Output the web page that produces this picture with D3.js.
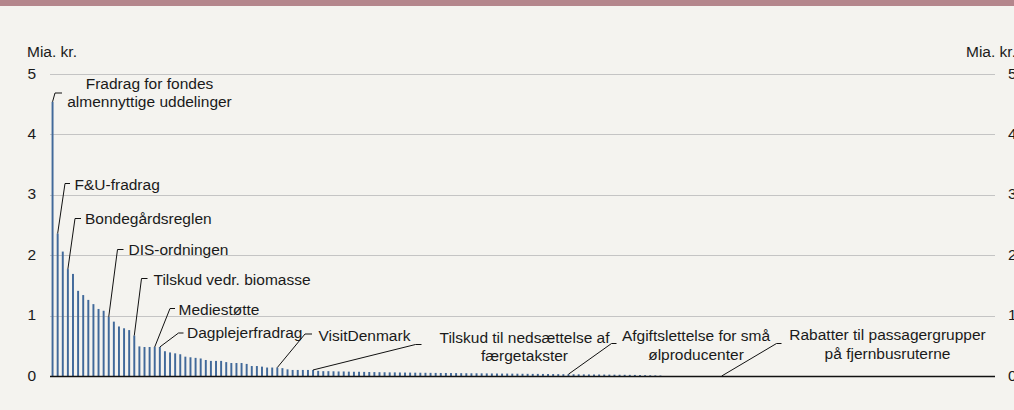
<!DOCTYPE html>
<html><head><meta charset="utf-8">
<script src="https://cdn.jsdelivr.net/npm/d3@7"></script>
<style>
body{margin:0;background:#f4f3ef}
svg{display:block}
text{font-family:"Liberation Sans",Arial,sans-serif;font-size:15.5px;fill:#1a1a1a}
</style>
</head><body><svg id="c" width="1014" height="410"></svg>
<script>
// Values (Mia. kr.) of the ordered tax expenditures / subsidies
const values = [
  4.54, 2.36, 2.06, 1.77, 1.69, 1.41, 1.34, 1.26, 1.19, 1.11,
  1.08, 0.98, 0.90, 0.82, 0.79, 0.76, 0.67, 0.49, 0.48, 0.48,
  0.48, 0.48, 0.41, 0.39, 0.375, 0.36, 0.32, 0.31, 0.30, 0.29,
  0.265, 0.25, 0.25, 0.25, 0.23, 0.215, 0.215, 0.215, 0.20, 0.165,
  0.165, 0.155, 0.14, 0.14, 0.14, 0.13, 0.11, 0.10, 0.10, 0.10,
  0.10, 0.10, 0.085, 0.08, 0.08, 0.078, 0.075, 0.075, 0.072, 0.07,
  0.07, 0.068, 0.066, 0.065, 0.063, 0.062, 0.06, 0.06, 0.058, 0.057,
  0.056, 0.055, 0.054, 0.053, 0.052, 0.051, 0.05, 0.05, 0.049, 0.048,
  0.047, 0.046, 0.045, 0.045, 0.044, 0.043, 0.042, 0.041, 0.04, 0.04,
  0.039, 0.038, 0.037, 0.036, 0.035, 0.035, 0.034, 0.033, 0.032, 0.031,
  0.03, 0.03, 0.029, 0.028, 0.027, 0.026, 0.025, 0.025, 0.024, 0.023,
  0.022, 0.021, 0.02, 0.019, 0.018, 0.016, 0.014, 0.012, 0.01, 0.008,
  0, 0, 0, 0, 0, 0, 0, 0, 0, 0,
  0, 0, 0, 0, 0, 0, 0, 0, 0, 0,
  0, 0, 0, 0, 0, 0, 0, 0, 0, 0,
  0, 0, 0, 0, 0, 0, 0, 0, 0, 0,
  0, 0, 0, 0, 0, 0, 0, 0, 0, 0,
  0, 0, 0, 0, 0, 0, 0, 0, 0, 0,
  0, 0, 0, 0, 0
];
const categories = values.map((v, i) => i + 1);
const tickValues = [0, 1, 2, 3, 4, 5];
const axisTitle = "Mia. kr.";
const annotationNames = [
  ["Fradrag for fondes", "almennyttige uddelinger"],
  ["F&U-fradrag"],
  ["Bondegårdsreglen"],
  ["DIS-ordningen"],
  ["Tilskud vedr. biomasse"],
  ["Mediestøtte"],
  ["Dagplejerfradrag"],
  ["VisitDenmark"],
  ["Tilskud til nedsættelse af", "færgetakster"],
  ["Afgiftslettelse for små", "ølproducenter"],
  ["Rabatter til passagergrupper", "på fjernbusruterne"]
];
const annotationBars = [1, 2, 4, 12, 17, 21, 22, 45, 52, 102, 132];

// ---- layout (positions / styles) ----
const W = 1014, H = 410;
const plot = {left: 50, right: 995, top: 74, bottom: 376};
const labelLayout = [
  {x: 149.5, y: 88.5, anchor: "middle", ex: 55, ey: 93, hx: 62},
  {x: 74.5, y: 189.5, anchor: "start", ex: 65, ey: 183.5, hx: 70},
  {x: 85, y: 224, anchor: "start", ex: 75, ey: 218.5, hx: 81},
  {x: 128.5, y: 255, anchor: "start", ex: 117.5, ey: 249.5, hx: 123.5},
  {x: 153.5, y: 285, anchor: "start", ex: 141.5, ey: 278.5, hx: 147.5},
  {x: 178.5, y: 315, anchor: "start", ex: 170, ey: 308.5, hx: 175},
  {x: 187, y: 338, anchor: "start", ex: 178.5, ey: 333, hx: 183.5},
  {x: 318.5, y: 341, anchor: "start", ex: 305, ey: 334, hx: 312},
  {x: 524.5, y: 342.5, anchor: "middle", ex: 415.5, ey: 344.5, hx: 421.5},
  {x: 696, y: 341, anchor: "middle", ex: 611.5, ey: 343.5, hx: 616.5},
  {x: 887.5, y: 340, anchor: "middle", ex: 776.5, ey: 343.5, hx: 781.5}
];
const lineGap = 18.5;

const svg = d3.select("#c");
svg.append("rect").attr("width", W).attr("height", H).attr("fill", "#f4f3ef");
svg.append("rect").attr("width", W).attr("height", 6).attr("fill", "#b4868c");

const x = d3.scaleBand().domain(categories).range([plot.left, plot.right]).paddingInner(0.62).paddingOuter(0.31);
const y = d3.scaleLinear().domain([0, 5]).range([plot.bottom, plot.top]);

// gridlines
svg.append("g").selectAll("line").data(tickValues.filter(d => d > 0)).join("line")
  .attr("x1", plot.left).attr("x2", plot.right)
  .attr("y1", d => Math.round(y(d)) + 0.5).attr("y2", d => Math.round(y(d)) + 0.5)
  .attr("stroke", "#c4c4c4").attr("stroke-width", 1);

// left axis
const yAxisL = d3.axisLeft(y).tickValues(tickValues).tickSize(0).tickPadding(0).tickFormat(d3.format("d"));
const gL = svg.append("g").attr("transform", `translate(36,0)`).call(yAxisL);
gL.select(".domain").remove();
gL.selectAll("text").attr("dy", null).attr("dominant-baseline", "middle").attr("font-family", null).attr("font-size", null).style("fill", "#1a1a1a");

// right axis
const yAxisR = d3.axisRight(y).tickValues(tickValues).tickSize(0).tickPadding(0).tickFormat(d3.format("d"));
const gR = svg.append("g").attr("transform", `translate(1008,0)`).call(yAxisR);
gR.select(".domain").remove();
gR.selectAll("text").attr("dy", null).attr("dominant-baseline", "middle").attr("font-family", null).attr("font-size", null).style("fill", "#1a1a1a");

svg.append("text").attr("x", 27).attr("y", 57).text(axisTitle);
svg.append("text").attr("x", 966).attr("y", 57).text(axisTitle);

// bars
svg.append("g").selectAll("rect").data(values).join("rect")
  .attr("x", (d, i) => x(categories[i]))
  .attr("width", x.bandwidth())
  .attr("y", d => y(d))
  .attr("height", d => y(0) - y(d))
  .attr("fill", "#41699a");

// baseline
svg.append("line").attr("x1", plot.left).attr("x2", plot.right)
  .attr("y1", Math.round(y(0)) + 0.5).attr("y2", Math.round(y(0)) + 0.5)
  .attr("stroke", "#111").attr("stroke-width", 1.3);

// annotations
const ann = svg.append("g");
annotationNames.forEach((lines, k) => {
  const L = labelLayout[k];
  const bi = annotationBars[k] - 1;
  const bx = x(categories[bi]) + x.bandwidth() / 2;
  const by = y(values[bi]);
  ann.append("polyline")
    .attr("points", `${bx},${by} ${L.ex},${L.ey} ${L.hx},${L.ey}`)
    .attr("fill", "none").attr("stroke", "#111").attr("stroke-width", 1);
  const t = ann.append("text").attr("text-anchor", L.anchor);
  lines.forEach((s, j) => {
    t.append("tspan").attr("x", L.x).attr("y", L.y + j * lineGap).text(s);
  });
});
</script>
</body></html>
